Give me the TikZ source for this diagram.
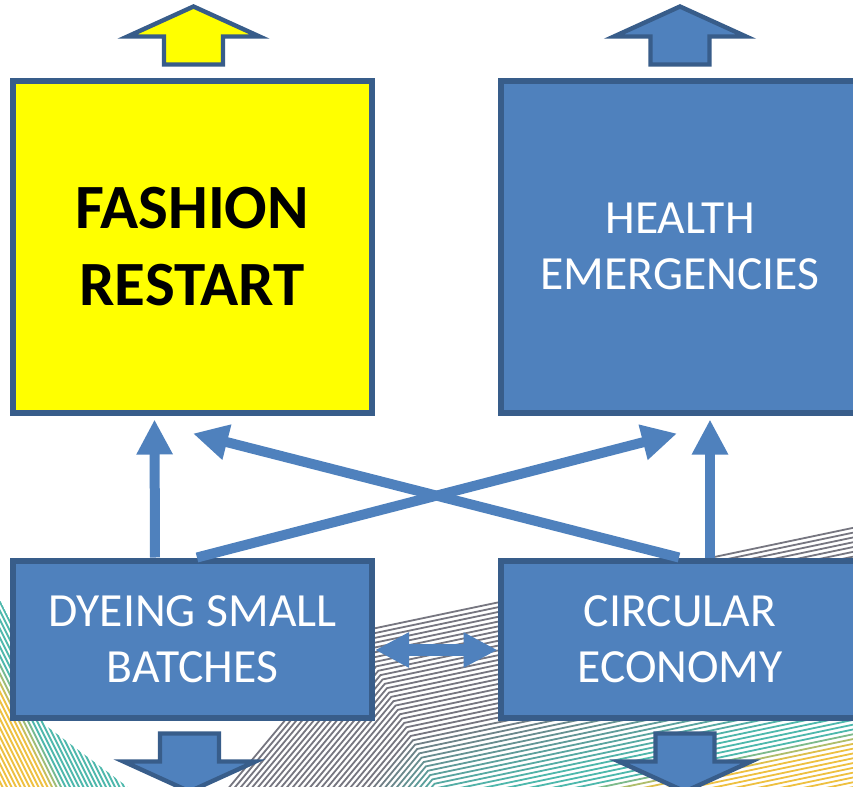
\documentclass[tikz,border=0pt]{standalone}
\usepackage{fontspec}
\setmainfont{Carlito}
\usepackage{tikz}
\usetikzlibrary{arrows.meta}
\usetikzlibrary{calc}

\definecolor{boxblue}{HTML}{4F81BD}
\definecolor{boxedge}{HTML}{385D8A}
\definecolor{fashyellow}{RGB}{255,255,0}
\definecolor{linegray}{HTML}{767680}
\definecolor{lineteal}{HTML}{4DB8AC}
\definecolor{lineyellow}{HTML}{EEC040}

\begin{document}
\begin{tikzpicture}[x=0.5pt,y=-0.5pt]

    \path[use as bounding box,clip] (0,0) rectangle (853,787);
    \fill[white] (0,0) rectangle (853,787);

    % striped swoosh behind the lower boxes
    \foreach \k in {0,...,58}{
        \pgfmathsetmacro{\ya}{602+4.8*\k}
        \pgfmathsetmacro{\kx}{340+0.45*(\ya-560)}
        \pgfmathsetmacro{\ky}{\ya+0.21*(500-\kx)}
        \pgfmathsetmacro{\sx}{\kx-(820-\ky)/1.2}
        \pgfmathsetmacro{\ey}{\ya-0.21*380}
        \pgfmathtruncatemacro{\tm}{max(0,min(100,(\k-24)*7))}
        \pgfmathtruncatemacro{\ym}{max(0,min(100,(\k-42)*30))}
        \colorlet{stripe}{lineteal!\tm!linegray}
        \colorlet{stripe}{lineyellow!\ym!stripe}
        \draw[stripe,line width=0.9pt] (\sx,820) -- (\kx,\ky) -- (880,\ey);
    }
    \begin{scope}
        \clip (0,600) -- (20,640) -- (45,725) -- (145,800) -- (0,800) -- cycle;
        \foreach \k in {0,...,34}{
            \pgfmathtruncatemacro{\ym}{max(0,min(100,(16-\k)*25))}
            \colorlet{stripe}{lineyellow!\ym!lineteal}
            \draw[stripe,line width=0.9pt] (4.5*\k-100,600) -- (4.5*\k,800);
        }
    \end{scope}

    \tikzset{
        box/.style={draw=boxedge, line width=3pt, fill=boxblue, text=white,
            minimum width=179.5pt, align=center, inner sep=0pt,
            font=\fontsize{23.8}{28}\selectfont},
        bigbox/.style={box, minimum height=166pt},
        smallbox/.style={box, minimum height=78.5pt},
        link/.style={boxblue, line width=5pt, -{Triangle[length=17.5pt,width=17pt]}},
        twoway/.style={boxblue, line width=6pt,
            {Triangle[length=17pt,width=16.5pt]}-{Triangle[length=17pt,width=16.5pt]}},
        blockarrow/.style={draw=boxedge, line width=2.2pt, fill=boxblue, line join=miter},
        blockup/.pic={
            \path[pic actions] (-29.5,-13) -- (-29.5,-41) -- (-66,-41) -- (0,-71)
                -- (66,-41) -- (29.5,-41) -- (29.5,-13) -- cycle;
        }
    }

    % boxes
    \node[bigbox, fill=fashyellow, text=black, font=\fontsize{31.5}{38.5}\selectfont\bfseries]
        (fash) at (192,246.5) {FASHION\\RESTART};
    \node[bigbox] (health) at (680,246.5) {HEALTH\\EMERGENCIES};
    \node[smallbox] (dye) at (192.5,639) {DYEING SMALL\\BATCHES};
    \node[smallbox] (circ) at (680,639) {CIRCULAR\\ECONOMY};

    % in and out
    \pic[blockarrow, fill=fashyellow] at ([xshift=0.75pt]fash.north) {blockup};
    \pic[blockarrow] at (health.north) {blockup};
    \pic[blockarrow, rotate=180] at ([xshift=-1.5pt]dye.south) {blockup};
    \pic[blockarrow, rotate=180] at ([xshift=2.5pt]circ.south) {blockup};

    % links between the boxes
    \draw[link] ([xshift=-18.75pt]dye.north) -- ([xshift=-18.75pt,yshift=-2pt]fash.south);
    \draw[link] ([xshift=15pt]circ.north) -- ([xshift=15pt,yshift=-2pt]health.south);
    \draw[link] ([xshift=2.25pt]dye.north) -- ([xshift=-1.5pt,yshift=-9pt]health.south);
    \draw[link] ([xshift=-0.5pt]circ.north) -- ([xshift=0.5pt,yshift=-9pt]fash.south);
    \draw[twoway] ([yshift=-5.5pt]dye.east) -- ([yshift=-5.5pt]circ.west);

\end{tikzpicture}
\end{document}
